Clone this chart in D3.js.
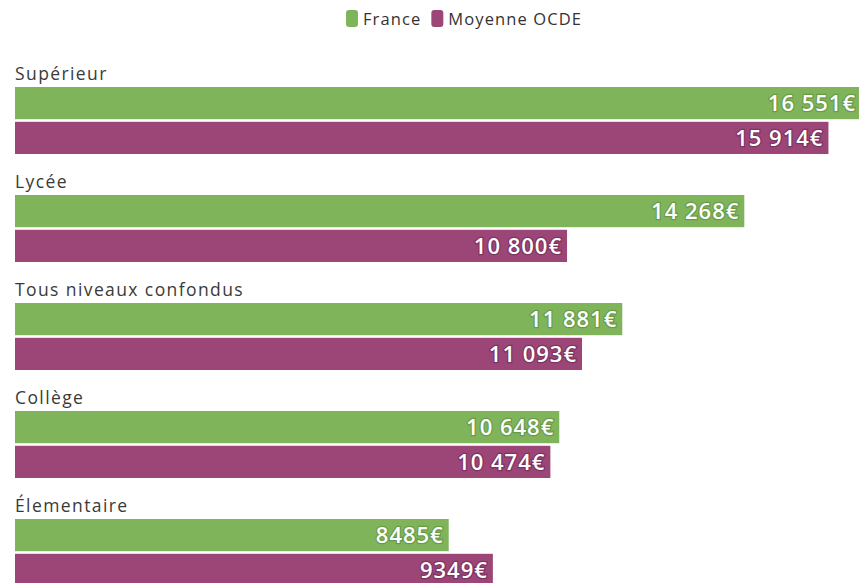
<!DOCTYPE html>
<html>
<head>
<meta charset="utf-8">
<script src="https://cdn.jsdelivr.net/npm/d3@7"></script>
<style>
  body { margin: 0; background: #fff; }
  svg { display: block; font-family: "Open Sans", Lato, sans-serif; }
</style>
</head>
<body>
<svg id="chart"></svg>
<script>
const categories = ["Supérieur", "Lycée", "Tous niveaux confondus", "Collège", "Élementaire"]
const series = ["France", "Moyenne OCDE"]
const france = [16551, 14268, 11881, 10648, 8485]
const ocde = [15914, 10800, 11093, 10474, 9349]
const colors = ["#80b45b", "#9b4676"]
const halos = ["#5a8a3a", "#6b2550"]

const full_width = 859
const full_height = 583
const svg = d3.select("#chart")
  .attr("width", full_width)
  .attr("height", full_height)

const fmt = v => v >= 10000 ? d3.format(",")(v).replace(",", " ") + "€" : v + "€"

// legend
const legend = svg.append("g").attr("transform", "translate(346, 10)")
let lx = 0
series.forEach((s, i) => {
  const g = legend.append("g").attr("transform", `translate(${lx}, 0)`)
  g.append("rect")
    .attr("width", 12).attr("height", 17).attr("rx", 3)
    .attr("fill", colors[i])
  const t = g.append("text")
    .attr("x", 17).attr("y", 14.5)
    .attr("font-size", "16.5px")
    .attr("letter-spacing", "1.1px")
    .attr("fill", "#333")
    .text(s)
  lx += 17 + t.node().getComputedTextLength() + 10
})

// scales
const y = d3.scaleBand()
  .domain(categories)
  .range([60, 60 + 108 * categories.length])
  .paddingInner(0)

const ySeries = d3.scaleBand()
  .domain(series)
  .range([27, 94])
  .paddingInner(0.075)

const x = d3.scaleLinear()
  .domain([0, d3.max(france.concat(ocde))])
  .range([15, 861])

const rows = categories.map((c, i) => ({ name: c, values: [france[i], ocde[i]] }))

const group = svg.append("g")
  .selectAll("g")
  .data(rows)
  .enter()
  .append("g")
  .attr("transform", d => `translate(0, ${y(d.name)})`)

group.append("text")
  .attr("x", 15)
  .attr("y", 20)
  .attr("font-size", "17.5px")
  .attr("letter-spacing", "1.4px")
  .attr("fill", "#3a3a3a")
  .text(d => d.name)

group.each(function(d) {
  const g = d3.select(this)
  d.values.forEach((v, i) => {
    g.append("rect")
      .attr("x", x(0))
      .attr("y", ySeries(series[i]))
      .attr("width", x(v) - x(0))
      .attr("height", ySeries.bandwidth())
      .attr("fill", colors[i])
    g.append("text")
      .attr("x", x(v) - 5)
      .attr("y", ySeries(series[i]) + ySeries.bandwidth() / 2 + 8)
      .attr("text-anchor", "end")
      .attr("font-size", "22px")
      .attr("font-weight", "600")
      .attr("letter-spacing", "1px")
      .attr("fill", "#fff")
      .attr("stroke", halos[i])
      .attr("stroke-width", 2.5)
      .attr("stroke-opacity", 0.6)
      .attr("paint-order", "stroke")
      .text(fmt(v))
  })
})
</script>
</body>
</html>
